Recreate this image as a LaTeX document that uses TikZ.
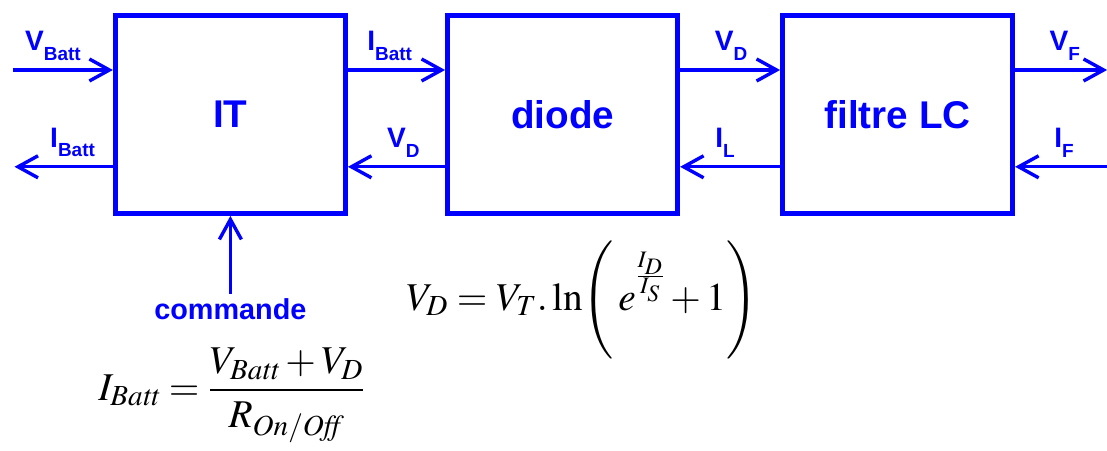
\documentclass[tikz,border=0pt]{standalone}
\usepackage{amsmath}
\usepackage{mathptmx}
\usepackage{fontspec}
\setsansfont{Liberation Sans}
\usetikzlibrary{arrows.meta,positioning}
\definecolor{sigblue}{RGB}{0,0,255}
\newcommand{\lblsub}[2]{#1\raisebox{-0.34em}{\fontsize{13.5}{15}\selectfont #2}}

\begin{document}
\begin{tikzpicture}[
  block/.style={draw=sigblue,line width=0.125cm,minimum width=5.75cm,minimum height=4.95cm,inner sep=0pt,text=sigblue,font=\sffamily\bfseries\fontsize{27.5}{33}\selectfont},
  sig/.style={draw=sigblue,line width=0.085cm,-{Straight Barb[length=0.5cm,width=0.55cm]}},
  lbl/.style={text=sigblue,font=\sffamily\bfseries\fontsize{20}{24}\selectfont,inner sep=0pt,anchor=south,yshift=0.2cm},
  eq/.style={inner sep=0pt,font=\fontsize{28}{34}\selectfont}
]
\useasboundingbox (0,0) rectangle (27.675,11.25);
% blocks
\node[block] (IT) at (5.76,8.39) {IT};
\node[block,right=2.43cm of IT] (diode) {diode};
\node[block,right=2.5cm of diode] (LC) {filtre LC};
% free ends
\coordinate (vin) at ([xshift=-2.5cm,yshift=1.11cm]IT.west);
\coordinate (iout) at ([xshift=-2.46cm,yshift=-1.31cm]IT.west);
\coordinate (vout) at ([xshift=2.3cm,yshift=1.11cm]LC.east);
\coordinate (iin) at ([xshift=2.4cm,yshift=-1.31cm]LC.east);
% signals
\draw[sig] (vin) -- node[lbl,pos=0.4]{\lblsub{V}{Batt}} ([yshift=1.11cm]IT.west);
\draw[sig] ([yshift=-1.31cm]IT.west) -- node[lbl,pos=0.41]{\lblsub{I}{Batt}} (iout);
\foreach \a/\b/\t/\p in {IT/diode/{\lblsub{I}{Batt}}/0.43,diode/LC/{\lblsub{V}{D}}/0.51}
  {\draw[sig] ([yshift=1.11cm]\a.east) -- node[lbl,pos=\p]{\t} ([yshift=1.11cm]\b.west);}
\foreach \a/\b/\t/\p in {diode/IT/{\lblsub{V}{D}}/0.43,LC/diode/{\lblsub{I}{L}}/0.55}
  {\draw[sig] ([yshift=-1.31cm]\a.west) -- node[lbl,pos=\p]{\t} ([yshift=-1.31cm]\b.east);}
\draw[sig] ([yshift=1.11cm]LC.east) -- node[lbl,pos=0.54]{\lblsub{V}{F}} (vout);
\draw[sig] (iin) -- node[lbl,pos=0.49]{\lblsub{I}{F}} ([yshift=-1.31cm]LC.east);
% commande
\node[text=sigblue,font=\sffamily\bfseries\fontsize{20.5}{24}\selectfont,inner sep=0.12cm,below=1.95cm of IT] (cmd) {commande};
\draw[sig] (cmd) -- (IT);
% equations
\node[eq,anchor=base west] (eqIT) at (2.45,1.25) {$I_{\mathit{Batt}}=\dfrac{V_{\mathit{Batt}}+V_D}{R_{\mathit{On}/\mathit{Off}}}$};
\node[eq,anchor=base west] (eqD) at (10.15,3.5) {$V_D=V_T\ldotp\ln\!\left(\rule[-1.25cm]{0pt}{3.0cm}\,e^{\raisebox{0.3em}{$\scriptstyle\frac{I_D}{I_S}$}}+1\right)$};
\end{tikzpicture}
\end{document}
